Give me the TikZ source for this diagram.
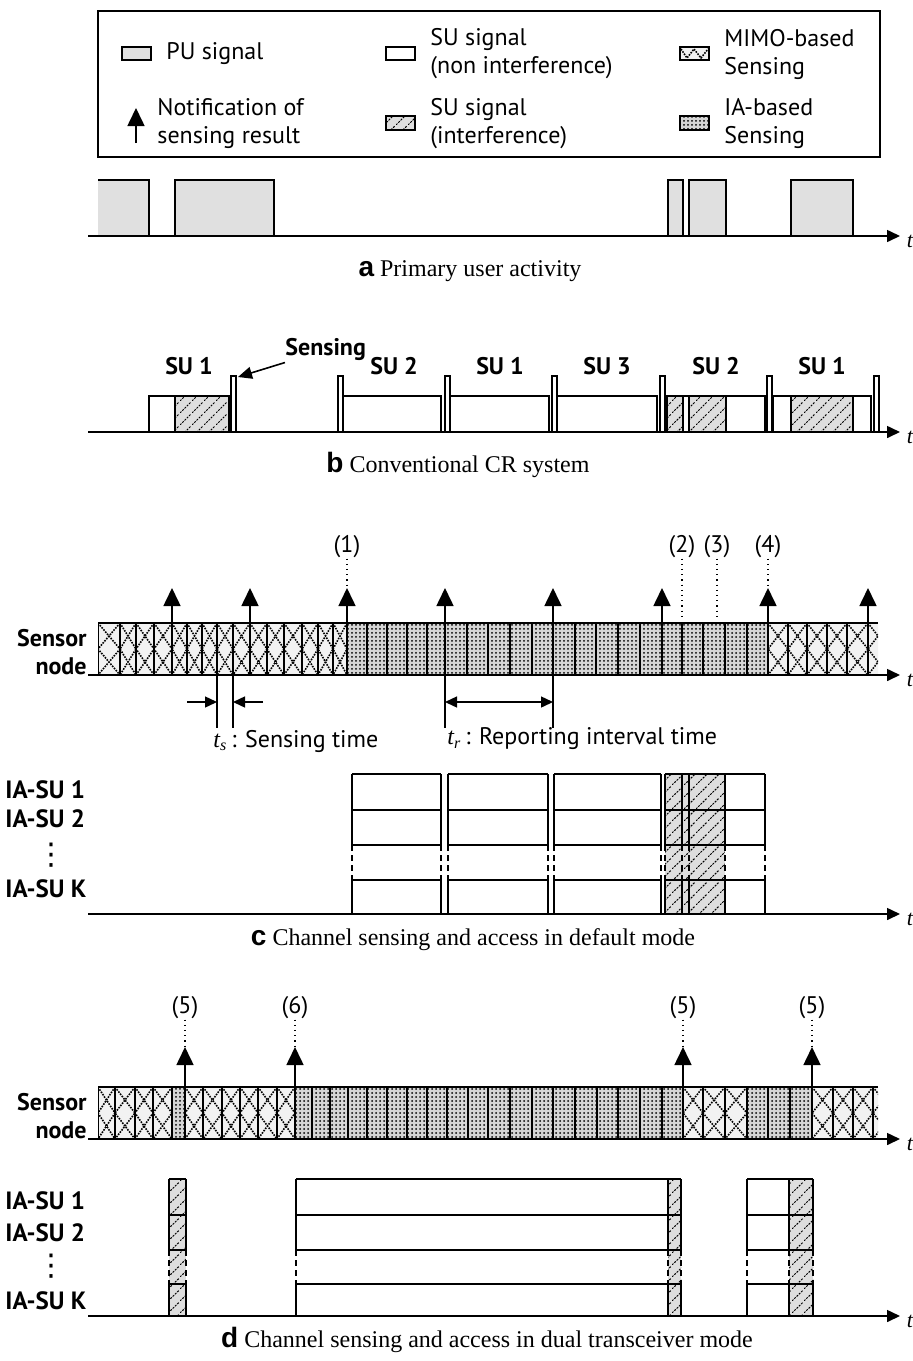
\documentclass[tikz,border=0pt]{standalone}
\usepackage{fontspec}
\setmainfont{Liberation Serif}
\setsansfont{Liberation Sans}
\newfontfamily\labfont{PT Sans}
\newfontfamily\symfont{DejaVu Sans}
\usetikzlibrary{arrows.meta,patterns.meta}

% sparse dashed hatching for interfered SU slots
\tikzdeclarepattern{name=suhatch, type=uncolored,
  bounding box={(0pt,0pt) and (6pt,6pt)}, tile size={(6pt,6pt)},
  code={\draw[line width=0.5pt, dash pattern=on 1.1pt off 0.6pt] (0pt,0pt) -- (6pt,6pt);}}

\tikzset{
  axis/.style={line width=0.8pt, -{Triangle[length=6.5pt,width=6pt]}},
  note/.style={line width=0.8pt, -{Triangle[length=9pt,width=8.5pt]}},
  dimarr/.style={line width=0.7pt, -{Triangle[length=6pt,width=5.5pt]}},
  blk/.style={line width=1pt},
  tick/.style={line width=0.6pt},
  pu/.style={draw, line width=0.9pt, fill=black!12},
  subox/.style={draw, line width=1.1pt},
  hatchfill/.style={preaction={fill=black!13}, pattern=suhatch},
  iafill/.style={preaction={fill=black!16}, pattern={Dots[distance=2pt, radius=0.5pt]}},
  mimofill/.style={fill=black!5},
  xline/.style={line width=0.8pt, dash pattern=on 0.8pt off 0.6pt},
  guide/.style={line width=0.6pt, dotted},
  bar/.style={draw, line width=0.6pt, fill=white},
  lbl/.style={font=\labfont\fontsize{12}{14}\selectfont, inner sep=0pt},
  blbl/.style={font=\labfont\bfseries\fontsize{12}{14}\selectfont, inner sep=0pt},
  rowlbl/.style={font=\labfont\bfseries\fontsize{12.5}{14}\selectfont, inner sep=0pt, anchor=west},
  vdotlbl/.style={font=\symfont\fontsize{15}{15}\selectfont, inner sep=0pt},
  captext/.style={font=\fontsize{12}{14}\selectfont, inner sep=0pt},
  tlbl/.style={font=\itshape\fontsize{11}{13}\selectfont, inner sep=0pt}
}
\newcommand{\panel}[1]{{\sffamily\bfseries\fontsize{14}{14}\selectfont #1}\ }

% one MIMO sensing column: x0, x1, top (height 52)
\newcommand{\mimocol}[3]{%
  \fill[mimofill] (#1,#3) rectangle (#2,#3+52);
  \draw[xline] (#1,#3) -- (#2,#3+26) -- (#1,#3+52) (#2,#3) -- (#1,#3+26) -- (#2,#3+52);
  \draw[tick] (#1,#3) -- (#1,#3+52) (#2,#3) -- (#2,#3+52);}
% one IA sensing column
\newcommand{\iacol}[3]{%
  \fill[iafill] (#1,#3) rectangle (#2,#3+52);
  \draw[tick] (#1,#3) -- (#1,#3+52) (#2,#3) -- (#2,#3+52);}
% SU slot over the IA-SU rows: x0, x1, fill, row lines r0..r4
\newcommand{\iablk}[8]{%
  \path[#3] (#1,#4) rectangle (#2,#8);
  \draw[blk] (#1,#4) -- (#2,#4) (#1,#5) -- (#2,#5) (#1,#6) -- (#2,#6) (#1,#7) -- (#2,#7) (#1,#8) -- (#2,#8);
  \draw[blk] (#1,#4) -- (#1,#6) (#2,#4) -- (#2,#6) (#1,#7) -- (#1,#8) (#2,#7) -- (#2,#8);
  \draw[blk, dash pattern=on 3pt off 2pt] (#1,#6) -- (#1,#7) (#2,#6) -- (#2,#7);}

\begin{document}
\begin{tikzpicture}[x=0.5pt, y=-0.5pt]
	\useasboundingbox (0,0) rectangle (913,1361);
	% legend
	\draw[line width=0.6pt] (98,11) rectangle (880,157);
	\draw[pu] (122,47) rectangle (151,60);
	\node[lbl, anchor=west] (lgpu) at (166,54) {PU signal};
	\draw[subox, fill=white] (386,47) rectangle (415,60);
	\node[lbl, anchor=west, align=left] (lgsu) at (430,54) {SU signal\\(non interference)};
	\draw[mimofill, line width=0.8pt, draw] (680,47) rectangle (709,60);
	\draw[xline] (681,49) -- (687,58) -- (694,49) -- (701,58) -- (708,49);
	\node[lbl, anchor=west, align=left] (lgmimo) at (724,54) {MIMO-based\\Sensing};
	\coordinate (lgtail) at (136,143);
	\coordinate (lgtip) at (136,108);
	\draw[note] (lgtail) -- (lgtip);
	\node[lbl, anchor=west, align=left] (lgnote) at (157,124) {Notification of\\sensing result};
	\path[hatchfill] (386,116) rectangle (415,130);
	\draw[line width=0.8pt] (386,116) rectangle (415,130);
	\node[lbl, anchor=west, align=left] (lgint) at (430,124) {SU signal\\(interference)};
	\path[iafill] (680,116) rectangle (709,130);
	\draw[line width=0.8pt] (680,116) rectangle (709,130);
	\node[lbl, anchor=west, align=left] (lgia) at (724,124) {IA-based\\Sensing};

	% (a) primary user activity
	\path[fill=black!12] (98,180) rectangle (149,236);
	\draw[line width=0.9pt] (98,180) -- (149,180) -- (149,236);
	\draw[pu] (175,180) rectangle (274,236);
	\draw[pu] (668,180) rectangle (683,236);
	\draw[pu] (689,180) rectangle (726,236);
	\draw[pu] (791,180) rectangle (853,236);
	\draw[axis] (88,236) -- (900,236);
	\node[tlbl] (ta) at (910,241) {t};
	\node[captext] (capa) at (470,271) {\panel{a}Primary user activity};

	% (b) conventional CR system
	\path[hatchfill] (175,396) rectangle (229,432);
	\draw[tick] (175,396) -- (175,432);
	\draw[subox] (149,396) rectangle (229,432);
	\draw[subox] (343,396) rectangle (441,432);
	\draw[subox] (450,396) rectangle (549,432);
	\draw[subox] (557,396) rectangle (657,432);
	\path[hatchfill] (667,396) rectangle (683,432);
	\path[hatchfill] (689,396) rectangle (726,432);
	\draw[tick] (683,396) -- (683,432) (689,396) -- (689,432) (726,396) -- (726,432);
	\draw[subox] (667,396) rectangle (765,432);
	\path[hatchfill] (791,396) rectangle (853,432);
	\draw[tick] (791,396) -- (791,432) (853,396) -- (853,432);
	\draw[subox] (773,396) rectangle (871,432);
	\foreach \x in {231,338,445,552,660,767,874}
		\draw[bar] (\x,376) rectangle (\x+5,432);
	\node[blbl] (sua) at (189,366) {SU 1};
	\node[blbl] (sub) at (394,366) {SU 2};
	\node[blbl] (suc) at (500,366) {SU 1};
	\node[blbl] (sud) at (607,366) {SU 3};
	\node[blbl] (sue) at (716,366) {SU 2};
	\node[blbl] (suf) at (822,366) {SU 1};
	\node[blbl, anchor=west] (sens) at (285,349) {Sensing};
	\coordinate (bartop) at (238,377);
	\draw[line width=0.8pt, -{Triangle[length=7pt,width=6pt]}] ([yshift=-1pt]sens.south west) -- (bartop);
	\draw[axis] (88,432) -- (900,432);
	\node[tlbl] (tb) at (910,437) {t};
	\node[captext] (capb) at (458,465) {\panel{b}Conventional CR system};

	% (c) default mode: sensor node
	\begin{scope}
		\clip (98,623) rectangle (878,675);
		\foreach \a/\b in {98/120,120/136,136/154,154/172,172/187,187/202,202/217,217/233,233/250,250/267,267/284,284/302,302/318,318/333,333/347,768/788,788/807,807/827,827/847,847/868,868/888}
			{\mimocol{\a}{\b}{623}}
		\foreach \a/\b in {347/367,367/387,387/407,407/427,427/445,445/467,467/488,488/510,510/532,532/553,553/575,575/596,596/618,618/640,640/662,662/682,682/703,703/725,725/747,747/768}
			{\iacol{\a}{\b}{623}}
	\end{scope}
	\draw[blk] (98,623) -- (878,623);
	\foreach \x in {172,250,347,445,553,662,768,868}
		\draw[note] (\x,675) -- (\x,588);
	\node[lbl] (m1) at (347,547) {(1)};
	\node[lbl] (m2) at (682,547) {(2)};
	\node[lbl] (m3) at (717,547) {(3)};
	\node[lbl] (m4) at (768,547) {(4)};
	\coordinate (p1) at (347,588);
	\coordinate (p2) at (682,620);
	\coordinate (p3) at (717,620);
	\coordinate (p4) at (768,588);
	\draw[guide] (m1.south) -- (p1) (m2.south) -- (p2) (m3.south) -- (p3) (m4.south) -- (p4);
	\node[blbl, anchor=east, align=right] (snc) at (87,652) {Sensor\\node};
	\draw[axis] (88,675) -- (900,675);
	\node[tlbl] (tc) at (910,680) {t};
	% sensing time and reporting interval
	\draw[tick] (217,675) -- (217,728) (233,675) -- (233,728) (445,675) -- (445,728) (553,675) -- (553,728);
	\draw[dimarr] (187,702) -- (217,702);
	\draw[dimarr] (263,702) -- (233,702);
	\draw[dimarr, {Triangle[length=6pt,width=5.5pt]}-{Triangle[length=6pt,width=5.5pt]}] (445,702) -- (553,702);
	\node[lbl, anchor=west] (tsl) at (213,741) {{\rmfamily\itshape t}\textsubscript{\rmfamily\itshape s}\,: Sensing time};
	\node[lbl, anchor=west] (trl) at (447,739) {{\rmfamily\itshape t}\textsubscript{\rmfamily\itshape r}\,: Reporting interval time};

	% (c) default mode: IA-SU rows
	\iablk{352}{441}{fill=white}{774}{810}{845}{880}{914}
	\iablk{448}{548}{fill=white}{774}{810}{845}{880}{914}
	\iablk{554}{661}{fill=white}{774}{810}{845}{880}{914}
	\iablk{665}{682}{hatchfill}{774}{810}{845}{880}{914}
	\iablk{682}{689}{hatchfill}{774}{810}{845}{880}{914}
	\iablk{689}{725}{hatchfill}{774}{810}{845}{880}{914}
	\iablk{725}{765}{fill=white}{774}{810}{845}{880}{914}
	\node[rowlbl] (ca1) at (5,790) {IA-SU 1};
	\node[rowlbl] (ca2) at (5,819) {IA-SU 2};
	\node[vdotlbl] (cadots) at (51,855) {⋮};
	\node[rowlbl] (cak) at (5,889) {IA-SU K};
	\draw[axis] (88,914) -- (900,914);
	\node[tlbl] (tcr) at (910,919) {t};
	\node[captext] (capc) at (473,940) {\panel{c}Channel sensing and access in default mode};

	% (d) dual transceiver mode: sensor node
	\begin{scope}
		\clip (98,1087) rectangle (878,1139);
		\foreach \a/\b in {98/115,115/135,135/153,153/172,185/203,203/222,222/240,240/258,258/277,277/295,683/703,703/725,725/747,812/833,833/853,853/873,873/893}
			{\mimocol{\a}{\b}{1087}}
		\foreach \a/\b in {172/185,295/312,312/330,330/348,348/367,367/387,387/407,407/427,427/447,447/468,468/488,488/510,510/532,532/553,553/575,575/597,597/618,618/640,640/662,662/683,747/768,768/790,790/812}
			{\iacol{\a}{\b}{1087}}
	\end{scope}
	\draw[blk] (98,1087) -- (878,1087);
	\foreach \x in {185,295,683,812}
		\draw[note] (\x,1139) -- (\x,1047);
	\node[lbl] (m5a) at (185,1008) {(5)};
	\node[lbl] (m6) at (295,1008) {(6)};
	\node[lbl] (m5b) at (683,1008) {(5)};
	\node[lbl] (m5c) at (812,1008) {(5)};
	\coordinate (q1) at (185,1047);
	\coordinate (q2) at (295,1047);
	\coordinate (q3) at (683,1047);
	\coordinate (q4) at (812,1047);
	\draw[guide] (m5a.south) -- (q1) (m6.south) -- (q2) (m5b.south) -- (q3) (m5c.south) -- (q4);
	\node[blbl, anchor=east, align=right] (snd) at (87,1116) {Sensor\\node};
	\draw[axis] (88,1139) -- (900,1139);
	\node[tlbl] (td) at (910,1144) {t};

	% (d) dual transceiver mode: IA-SU rows
	\iablk{169}{186}{hatchfill}{1179}{1215}{1250}{1284}{1316}
	\iablk{296}{668}{fill=white}{1179}{1215}{1250}{1284}{1316}
	\iablk{668}{681}{hatchfill}{1179}{1215}{1250}{1284}{1316}
	\iablk{747}{789}{fill=white}{1179}{1215}{1250}{1284}{1316}
	\iablk{789}{813}{hatchfill}{1179}{1215}{1250}{1284}{1316}
	\node[rowlbl] (da1) at (5,1201) {IA-SU 1};
	\node[rowlbl] (da2) at (5,1233) {IA-SU 2};
	\node[vdotlbl] (dadots) at (51,1266) {⋮};
	\node[rowlbl] (dak) at (5,1301) {IA-SU K};
	\draw[axis] (88,1316) -- (900,1316);
	\node[tlbl] (tdr) at (910,1321) {t};
	\node[captext] (capd) at (487,1340) {\panel{d}Channel sensing and access in dual transceiver mode};
\end{tikzpicture}
\end{document}
